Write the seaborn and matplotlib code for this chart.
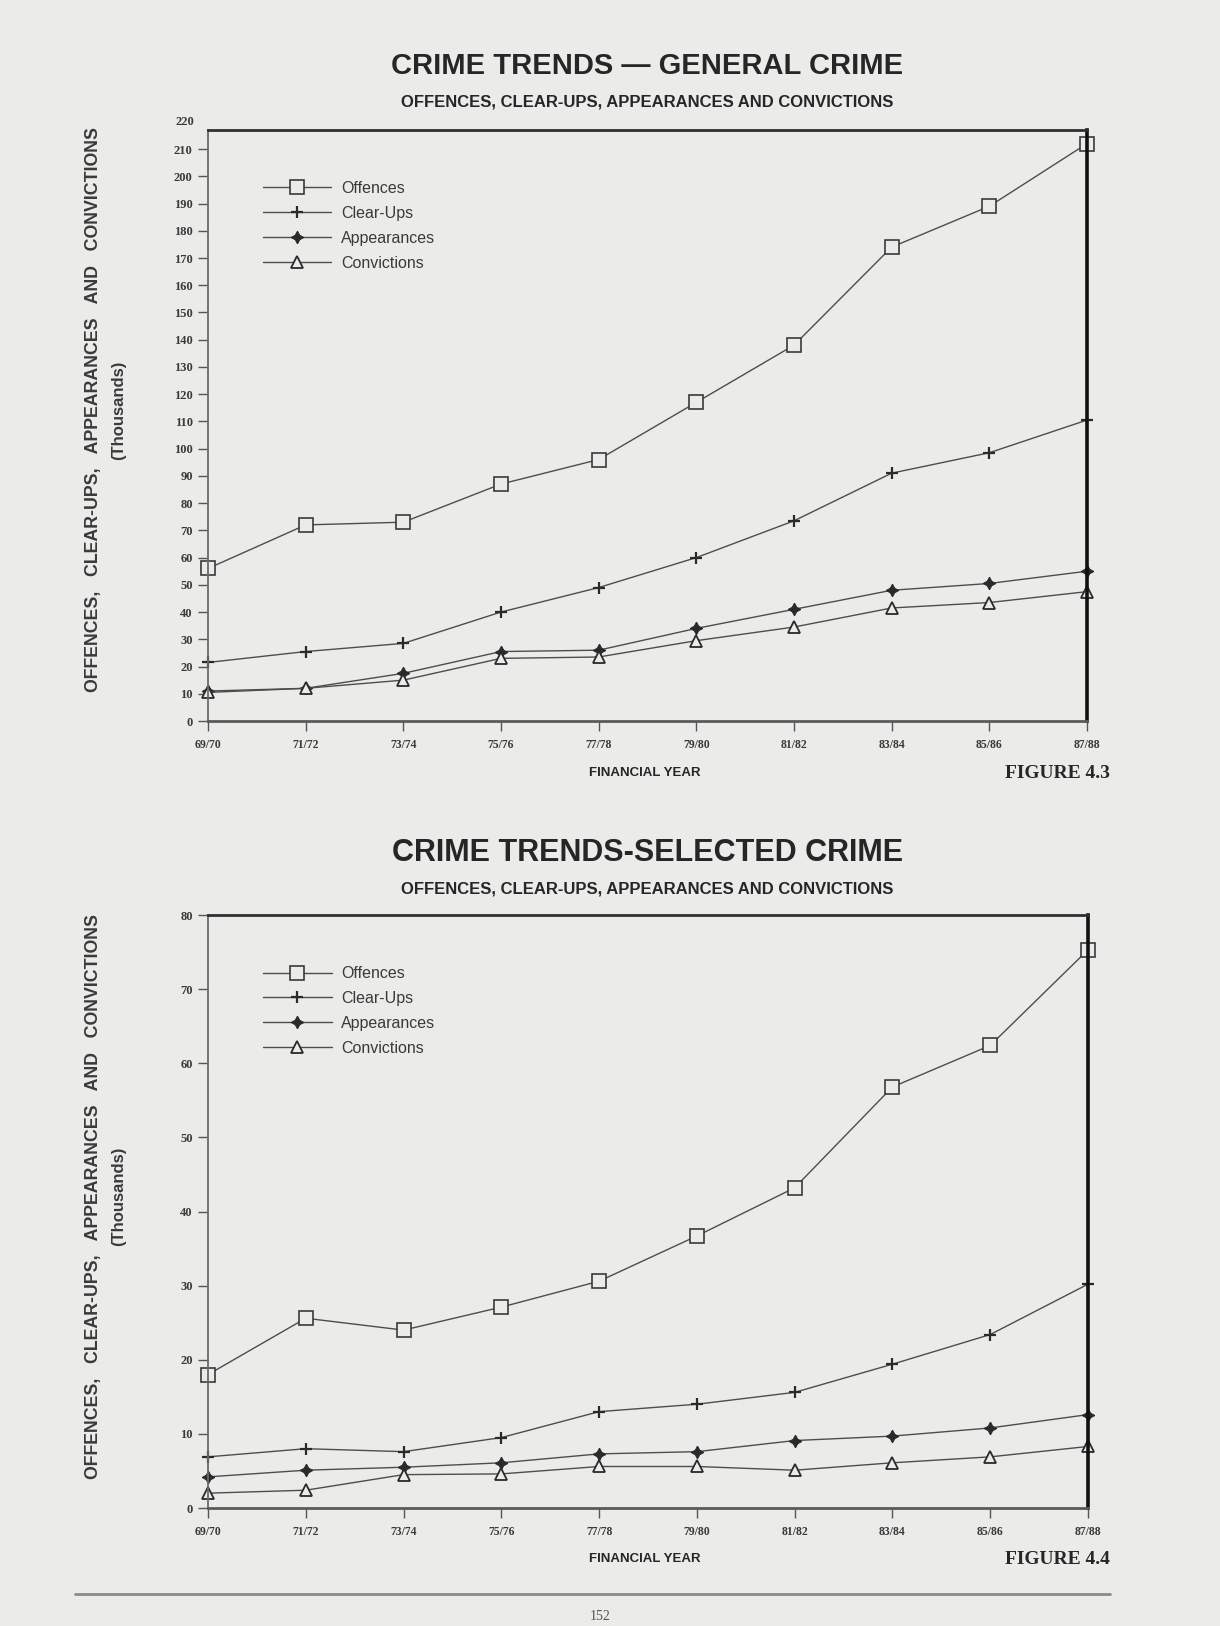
import numpy as np
import pandas as pd
import matplotlib
matplotlib.use("Agg")
import matplotlib.pyplot as plt
import seaborn as sns

# ---------------------------------------------------------------- data
years = ["69/70", "71/72", "73/74", "75/76", "77/78",
         "79/80", "81/82", "83/84", "85/86", "87/88"]

# Figure 4.3 - general crime (thousands)
gen_offences    = [56, 72, 73, 87, 96, 117, 138, 174, 189, 212]
gen_clearups    = [21.5, 25.5, 28.5, 40, 49, 60, 73.5, 91, 98.5, 110.5]
gen_appearances = [11, 12, 17.5, 25.5, 26, 34, 41, 48, 50.5, 55]
gen_convictions = [10.5, 12, 15, 23, 23.5, 29.5, 34.5, 41.5, 43.5, 47.5]

# Figure 4.4 - selected crime (thousands)
sel_offences    = [18, 25.6, 24, 27.1, 30.6, 36.7, 43.2, 56.8, 62.4, 75.3]
sel_clearups    = [6.9, 8, 7.6, 9.5, 13, 14, 15.6, 19.4, 23.4, 30.2]
sel_appearances = [4.2, 5.1, 5.5, 6.1, 7.3, 7.6, 9.1, 9.7, 10.8, 12.6]
sel_convictions = [2.0, 2.4, 4.5, 4.6, 5.6, 5.6, 5.1, 6.1, 6.9, 8.3]

series_names = ["Offences", "Clear-Ups", "Appearances", "Convictions"]

gen_ticks = list(range(0, 230, 10))
sel_ticks = list(range(0, 90, 10))

# ---------------------------------------------------------------- style
sns.set_style("ticks")
PAGE = "#ebebea"
INK = "#262626"
LINE = "#4d4d4d"
SERIF = ["Liberation Serif", "DejaVu Serif"]
plt.rcParams["font.family"] = ["Liberation Sans", "DejaVu Sans"]

W, H = 1220, 1626


def fx(x):
    return x / W


def fy(y):
    return 1 - y / H


fig = plt.figure(figsize=(12.2, 16.26), dpi=100, facecolor=PAGE)

marker_style = {
    "Offences":    dict(marker="s", markersize=10, markerfacecolor=PAGE,
                        markeredgecolor="#3a3a3a", markeredgewidth=1.2),
    "Clear-Ups":   dict(marker="+", markersize=9, markeredgecolor="#2a2a2a",
                        markeredgewidth=1.6),
    "Appearances": dict(marker=(4, 1, 0), markersize=9, markerfacecolor="#2a2a2a",
                        markeredgecolor="#2a2a2a", markeredgewidth=0.8),
    "Convictions": dict(marker="^", markersize=9, markerfacecolor=PAGE,
                        markeredgecolor="#2a2a2a", markeredgewidth=1.3),
}


def draw_panel(ax, values, yticks, ymax, tick_top_label=None):
    for name, vals in zip(series_names, values):
        df = pd.DataFrame({"year": years, "value": vals})
        sns.lineplot(data=df, x="year", y="value", ax=ax, color=LINE,
                     linewidth=1.0, errorbar=None, label=name,
                     clip_on=False, **marker_style[name])
    ax.set_facecolor(PAGE)
    ax.set_xlim(0, len(years) - 1)
    ax.set_ylim(0, ymax)
    ax.set_yticks([t for t in yticks if t <= ymax])
    ax.set_xticks(range(len(years)))
    ax.set_xticklabels(years)
    ax.set_xlabel("")
    ax.set_ylabel("")
    ax.tick_params(axis="both", direction="out", length=7, width=1.0,
                   colors="#555555", labelcolor="#3a3a3a")
    ax.tick_params(axis="y", pad=4, labelsize=9)
    ax.tick_params(axis="x", pad=6, labelsize=8.5)
    for lab in ax.get_xticklabels() + ax.get_yticklabels():
        lab.set_family(SERIF)
        lab.set_fontweight("bold")
    if tick_top_label is not None:
        ax.text(-0.016, tick_top_label, str(tick_top_label),
                transform=ax.get_yaxis_transform(), ha="right", va="center",
                fontsize=9, fontweight="bold", color="#3a3a3a", family=SERIF,
                clip_on=False)
    ax.spines["left"].set_color("#6a6a6a")
    ax.spines["left"].set_linewidth(1.3)
    ax.spines["bottom"].set_color("#5a5a5a")
    ax.spines["bottom"].set_linewidth(2.0)
    ax.spines["top"].set_color("#303030")
    ax.spines["top"].set_linewidth(2.0)
    ax.spines["right"].set_color("#111111")
    ax.spines["right"].set_linewidth(2.6)
    leg = ax.legend(loc="upper left", bbox_to_anchor=(0.046, 0.938),
                    frameon=False, fontsize=11.5, handlelength=4.3,
                    handletextpad=0.6, labelspacing=0.62)
    for txt in leg.get_texts():
        txt.set_color("#3a3a3a")


YLABEL = "OFFENCES,   CLEAR-UPS,   APPEARANCES   AND   CONVICTIONS"

# ---------------------------------------------------------------- top chart
ax1 = fig.add_axes([fx(208), fy(721), fx(1087) - fx(208), (721 - 130) / H])
draw_panel(ax1, [gen_offences, gen_clearups, gen_appearances, gen_convictions],
           gen_ticks, 217, tick_top_label=220)

fig.text(fx(647), fy(66), "CRIME TRENDS \u2014 GENERAL CRIME", ha="center",
         va="center", fontsize=21, fontweight="bold", color=INK)
fig.text(fx(647), fy(102), "OFFENCES, CLEAR-UPS, APPEARANCES AND CONVICTIONS",
         ha="center", va="center", fontsize=12, fontweight="bold", color=INK)
fig.text(fx(94), fy(410), YLABEL, rotation=90, ha="center", va="center",
         fontsize=12.8, fontweight="bold", color="#3a3a3a")
fig.text(fx(119), fy(410), "(Thousands)", rotation=90, ha="center",
         va="center", fontsize=12, fontweight="bold", color="#3a3a3a")
fig.text(fx(645), fy(773), "FINANCIAL YEAR", ha="center", va="center",
         fontsize=9.5, fontweight="bold", color=INK)
fig.text(fx(1110), fy(773), "FIGURE 4.3", ha="right", va="center",
         fontsize=14, fontweight="bold", color=INK, family=SERIF)

# ---------------------------------------------------------------- bottom chart
ax2 = fig.add_axes([fx(208), fy(1508), fx(1088) - fx(208), (1508 - 915) / H])
draw_panel(ax2, [sel_offences, sel_clearups, sel_appearances, sel_convictions],
           sel_ticks, 80)

fig.text(fx(648), fy(853), "CRIME TRENDS-SELECTED CRIME", ha="center",
         va="center", fontsize=22, fontweight="bold", color=INK)
fig.text(fx(647), fy(889), "OFFENCES, CLEAR-UPS, APPEARANCES AND CONVICTIONS",
         ha="center", va="center", fontsize=12, fontweight="bold", color=INK)
fig.text(fx(94), fy(1196), YLABEL, rotation=90, ha="center", va="center",
         fontsize=12.8, fontweight="bold", color="#3a3a3a")
fig.text(fx(119), fy(1196), "(Thousands)", rotation=90, ha="center",
         va="center", fontsize=12, fontweight="bold", color="#3a3a3a")
fig.text(fx(645), fy(1559), "FINANCIAL YEAR", ha="center", va="center",
         fontsize=9.5, fontweight="bold", color=INK)
fig.text(fx(1110), fy(1559), "FIGURE 4.4", ha="right", va="center",
         fontsize=14, fontweight="bold", color=INK, family=SERIF)

# ---------------------------------------------------------------- page footer
fig.add_artist(plt.Line2D([fx(75), fx(1110)], [fy(1594), fy(1594)],
                          color="#8a8a8a", linewidth=2.0))
fig.text(fx(600), fy(1616), "152", ha="center", va="center", fontsize=10,
         color="#555555", family=SERIF)

fig.savefig("out.png", dpi=100, facecolor=PAGE)
